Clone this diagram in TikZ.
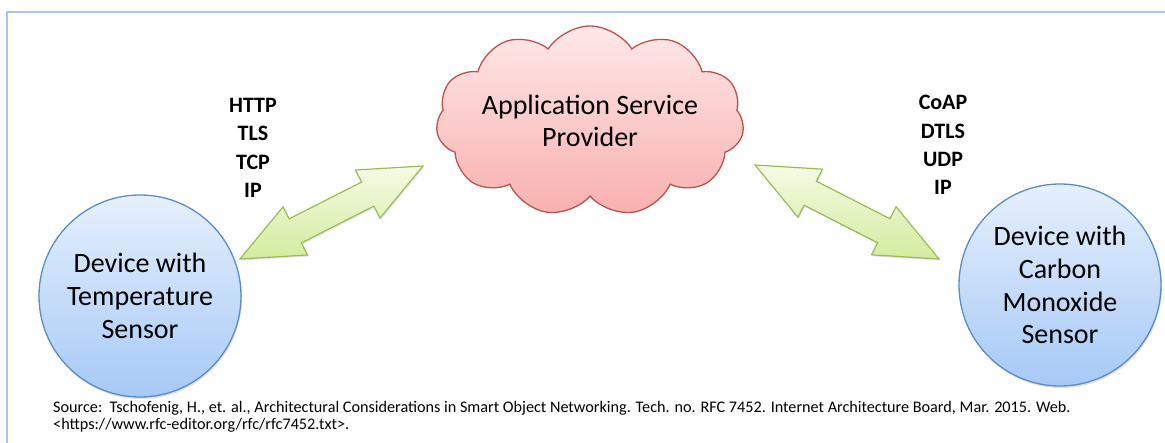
\documentclass[tikz,border=0pt]{standalone}
\usepackage{fontspec}
\setmainfont{Carlito}
\usetikzlibrary{shapes.symbols,calc,shadows}
\definecolor{circTop}{HTML}{E6F0FD}
\definecolor{circBot}{HTML}{A6C9F6}
\definecolor{circLine}{HTML}{5A8CC8}
\definecolor{cloudTop}{HTML}{FFE8E8}
\definecolor{cloudBot}{HTML}{F7B0AF}
\definecolor{cloudLine}{HTML}{C0504D}
\definecolor{arrTop}{HTML}{F5FBE4}
\definecolor{arrBot}{HTML}{D3EC9F}
\definecolor{arrLine}{HTML}{9BBB59}
\definecolor{frameLine}{HTML}{A7C7EE}
\tikzset{
  device/.style={circle, draw=circLine, line width=1.3pt, top color=circTop, bottom color=circBot,
    minimum size=202pt, inner sep=0pt, align=center, font=\fontsize{28}{32.8}\selectfont,
    drop shadow={opacity=0.25, shadow xshift=1pt, shadow yshift=-2pt}},
  provider/.style={cloud, cloud puffs=11, cloud puff arc=115, cloud ignores aspect, draw=cloudLine,
    line width=1.3pt, top color=cloudTop, bottom color=cloudBot, minimum width=308pt, minimum height=190pt,
    inner sep=0pt, align=center, font=\fontsize{28}{32}\selectfont},
  proto/.style={align=center, font=\bfseries\fontsize{22}{28.4}\selectfont},
  bigarrow/.style={draw=arrLine, line width=1.2pt, line join=miter, top color=arrTop, bottom color=arrBot,
    drop shadow={opacity=0.2, shadow xshift=1pt, shadow yshift=-1.5pt}},
  source/.style={align=left, anchor=west, inner sep=0pt, font=\fontsize{16.2}{16.5}\selectfont},
}
\newcommand{\dblarrow}[2]{%
  \path coordinate (h1) at ($(#1)!62pt!(#2)$) coordinate (h2) at ($(#2)!62pt!(#1)$);
  \draw[bigarrow] (#1) -- ($(h1)!27pt!90:(#2)$) -- ($(h1)!13.5pt!90:(#2)$)
    -- ($(h2)!13.5pt!-90:(#1)$) -- ($(h2)!27pt!-90:(#1)$) -- (#2)
    -- ($(h2)!27pt!90:(#1)$) -- ($(h2)!13.5pt!90:(#1)$)
    -- ($(h1)!13.5pt!-90:(#2)$) -- ($(h1)!27pt!-90:(#2)$) -- cycle;}
\begin{document}
\begin{tikzpicture}[x=1pt, y=-1pt]
  \useasboundingbox (0,0) rectangle (1165,443);
  \coordinate (fbl) at (7,443);
  \coordinate (ftl) at (7,12);
  \coordinate (ftr) at (1165,12);
  \draw[frameLine, line width=2pt] (fbl) -- (ftl) -- (ftr);

  \node[device] (temp) at (140,296) {Device with\\Temperature\\Sensor};
  \node[device] (co) at (1060,285) {Device with\\Carbon\\Monoxide\\Sensor};
  \node[provider] (asp) at (590,121) {Application Service\\Provider};

  \coordinate (la) at (240,259);
  \coordinate (lb) at (423,166);
  \coordinate (ra) at (755,165);
  \coordinate (rb) at (939,259);
  \dblarrow{la}{lb}
  \dblarrow{ra}{rb}

  \node[proto] (lp) at (253,148) {HTTP\\TLS\\TCP\\IP};
  \node[proto] (rp) at (943,145) {CoAP\\DTLS\\UDP\\IP};

  \node[source] (src) at (53,417) {Source:\ \ Tschofenig, H., et. al., Architectural Considerations in Smart Object Networking. Tech. no. RFC 7452. Internet Architecture Board, Mar. 2015. Web.\\
  <https://www.rfc-editor.org/rfc/rfc7452.txt>.};
\end{tikzpicture}
\end{document}
